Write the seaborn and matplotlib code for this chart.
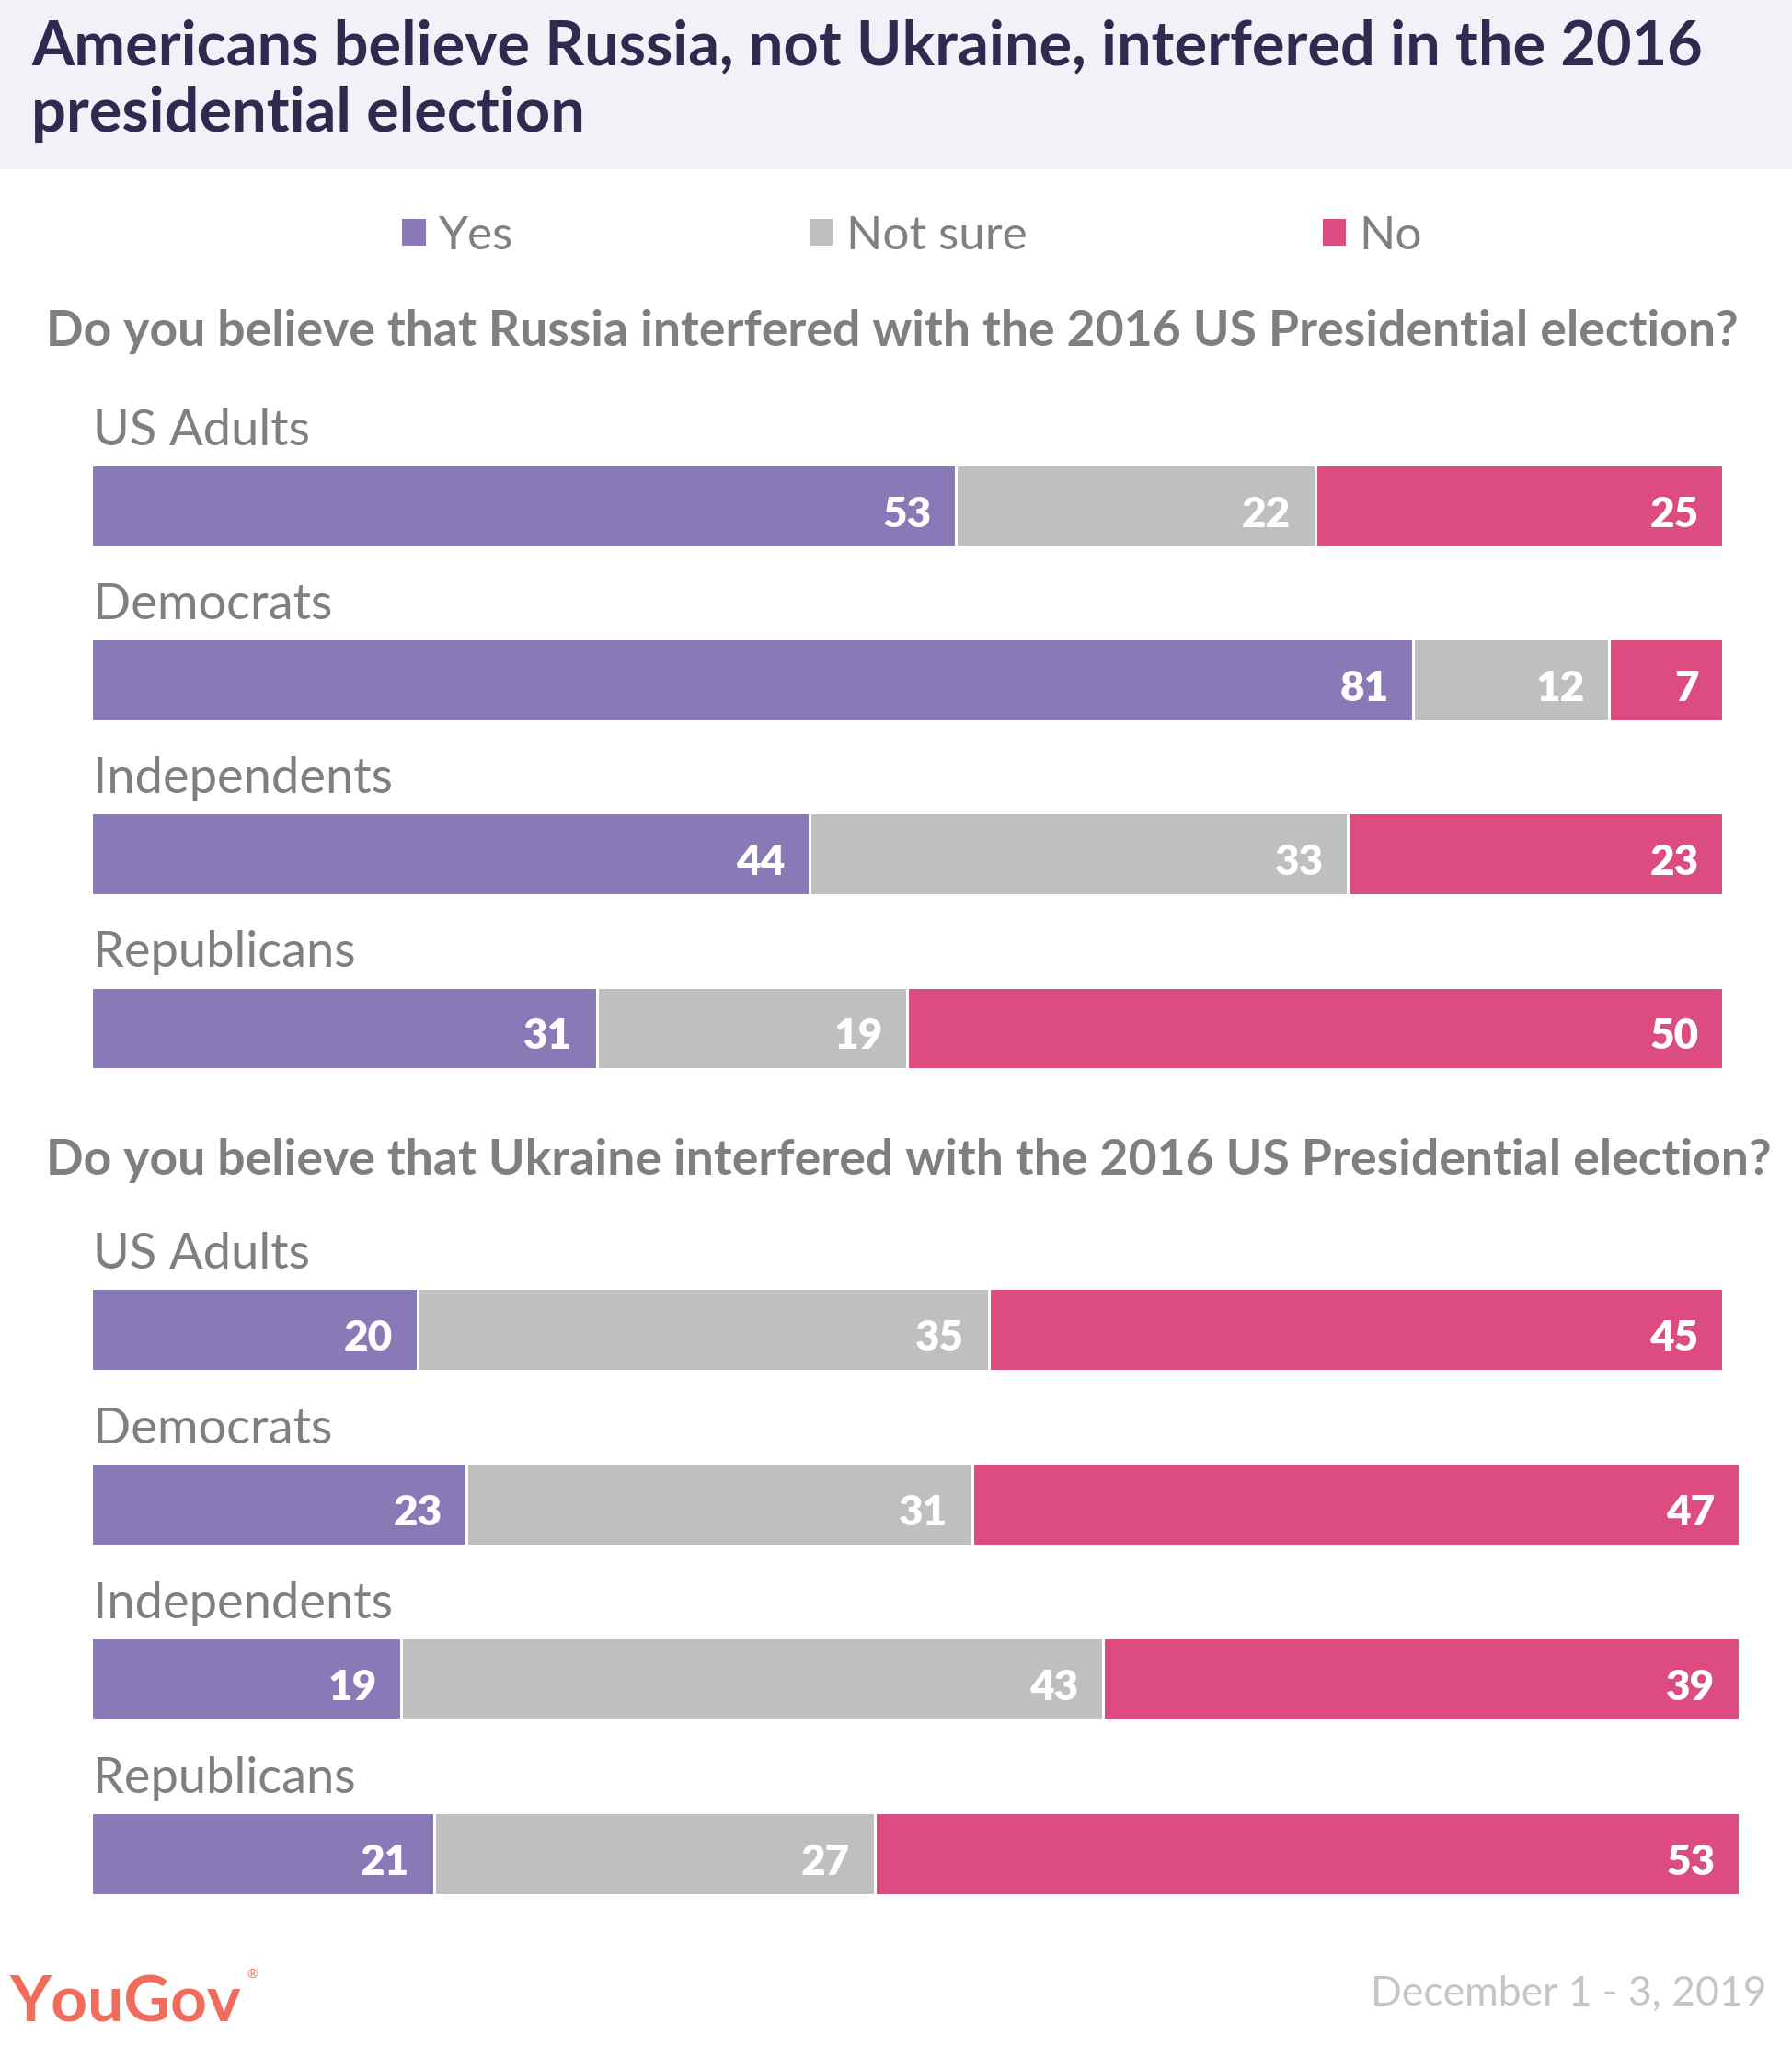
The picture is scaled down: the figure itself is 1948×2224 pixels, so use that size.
'''YouGov: Russia vs Ukraine interference, stacked bars'''

import pandas as pd
import seaborn as sns
import matplotlib.pyplot as plt
from matplotlib.patches import Patch, Rectangle

# data
groups = ['US Adults', 'Democrats', 'Independents', 'Republicans']
answers = ['Yes', 'Not sure', 'No']
colors = ['#8a79b7', '#bfbfbf', '#dd4c81']

russia_yes = [53, 81, 44, 31]
russia_not_sure = [22, 12, 33, 19]
russia_no = [25, 7, 23, 50]

ukraine_yes = [20, 23, 19, 21]
ukraine_not_sure = [35, 31, 43, 27]
ukraine_no = [45, 47, 39, 53]

title_lines = ['Americans believe Russia, not Ukraine, interfered in the 2016',
               'presidential election']
questions = ['Do you believe that Russia interfered with the 2016 US Presidential election?',
             'Do you believe that Ukraine interfered with the 2016 US Presidential election?']
date_text = 'December 1 - 3, 2019'

sns.set_theme(style='white')
plt.rcParams['font.family'] = ['Lato', 'DejaVu Sans']

W, H = 1949, 2224
fig = plt.figure(figsize=(W / 100, H / 100), dpi=100)


def fy(y):
    # pixel row from the top -> figure fraction
    return 1 - y / H


# title band
fig.patches.append(Rectangle((0, fy(183)), 1, 183 / H, transform=fig.transFigure,
                             color='#f2f1f8', zorder=0))
fig.text(34 / W, fy(70), title_lines[0], fontsize=48, fontweight='bold',
         color='#2f2a4f', va='baseline')
fig.text(34 / W, fy(143), title_lines[1], fontsize=48, fontweight='bold',
         color='#2f2a4f', va='baseline')

# legend
handles = [Patch(facecolor=c, edgecolor='none') for c in colors]
fig.legend(handles, answers, loc='lower left', bbox_to_anchor=(437 / W, fy(280)),
           ncol=3, frameon=False, fontsize=37, handlelength=0.5, handleheight=0.5,
           handletextpad=0.28, columnspacing=6.25, borderpad=0, borderaxespad=0,
           labelcolor='#808080')


def draw_panel(ax, yes, not_sure, no):
    df = pd.DataFrame({'group': groups, 'yes': yes, 'not_sure': not_sure, 'no': no})
    df['cum_ns'] = df['yes'] + df['not_sure']
    df['total'] = df['cum_ns'] + df['no']
    # stacked look: draw the running totals from the longest down
    for col, c in zip(['total', 'cum_ns', 'yes'], colors[::-1]):
        sns.barplot(data=df, x=col, y='group', color=c, orient='h', width=0.472,
                    saturation=1, edgecolor='white', linewidth=2.2, ax=ax)
    for i in range(len(groups)):
        ends = [df['yes'][i], df['cum_ns'][i], df['total'][i]]
        vals = [df['yes'][i], df['not_sure'][i], df['no'][i]]
        for v, e in zip(vals, ends):
            ax.text(e - 1.5, i + 0.05, str(v), ha='right', va='center',
                    color='white', fontsize=33, fontweight='heavy')
        ax.text(0.1, i - 0.236 - 0.113, groups[i], ha='left', va='baseline',
                color='#7f7f7f', fontsize=39)
    ax.set_xlim(0, 101)
    ax.set_ylim(3.5, -0.5)
    ax.axis('off')


ax1 = fig.add_axes([99 / W, fy(1212), (1891 - 99) / W, (1212 - 455) / H])
draw_panel(ax1, russia_yes, russia_not_sure, russia_no)
ax2 = fig.add_axes([99 / W, fy(2110), (1891 - 99) / W, (2110 - 1350) / H])
draw_panel(ax2, ukraine_yes, ukraine_not_sure, ukraine_no)

fig.text(50 / W, fy(376), questions[0], fontsize=38.5, fontweight='bold',
         color='#7f7f7f', va='baseline')
fig.text(50 / W, fy(1277), questions[1], fontsize=38.5, fontweight='bold',
         color='#7f7f7f', va='baseline')

# footer
fig.text(10 / W, fy(2198), 'YouGov', fontsize=50, fontweight='bold',
         color='#f26c5c', va='baseline')
fig.text(268 / W, fy(2150), '®', fontsize=10, color='#f26c5c', va='baseline')
fig.text(1920 / W, fy(2180), date_text, fontsize=32, color='#c5c5c5',
         ha='right', va='baseline')

fig.savefig('out.png', dpi=100)
